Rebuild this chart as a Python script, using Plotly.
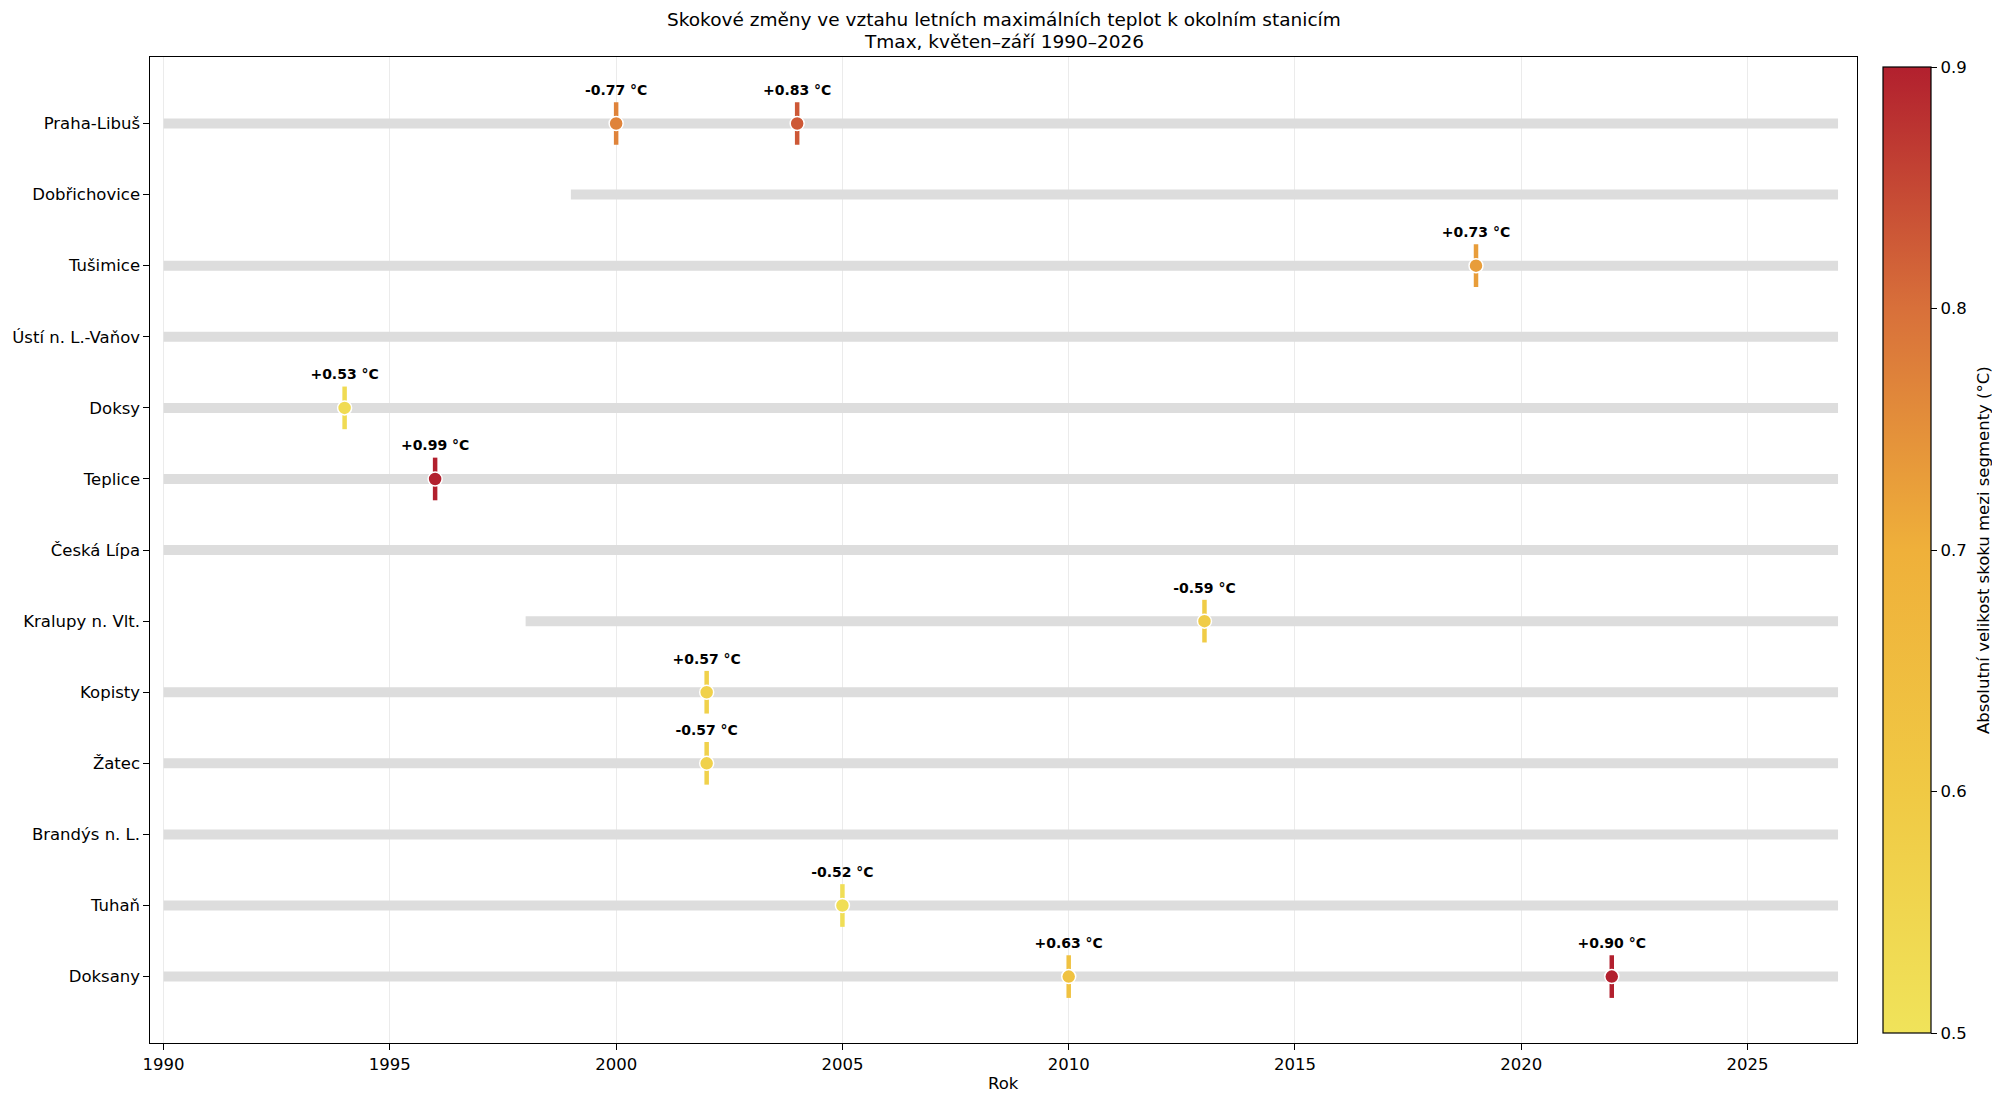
import plotly.graph_objects as go
from plotly.colors import sample_colorscale

# data
stations = ["Praha-Libuš", "Dobřichovice", "Tušimice", "Ústí n. L.-Vaňov", "Doksy",
            "Teplice", "Česká Lípa", "Kralupy n. Vlt.", "Kopisty", "Žatec",
            "Brandýs n. L.", "Tuhaň", "Doksany"]
start_years = [1990, 1999, 1990, 1990, 1990, 1990, 1990, 1998, 1990, 1990, 1990, 1990, 1990]
end_year = 2027

change_station = ["Praha-Libuš", "Praha-Libuš", "Tušimice", "Doksy", "Teplice",
                  "Kralupy n. Vlt.", "Kopisty", "Žatec", "Tuhaň", "Doksany", "Doksany"]
change_year = [2000, 2004, 2019, 1994, 1996, 2013, 2002, 2002, 2005, 2010, 2022]
change_size = [-0.77, 0.83, 0.73, 0.53, 0.99, -0.59, 0.57, -0.57, -0.52, 0.63, 0.90]

cmin, cmax = 0.5, 0.9
cscale = [[0.0, "#f0e35a"], [0.25, "#f0c944"], [0.5, "#efb03a"],
          [0.75, "#d8703a"], [1.0, "#b2202e"]]

FONT = "DejaVu Sans"
W, H = 2000, 1103
OFF = 8  # page body margin


def px_x(p):
    return (p - OFF) / W


def px_y(p):
    return 1 - (p - OFF) / H


ypos = {s: i for i, s in enumerate(stations)}
cy = [ypos[s] for s in change_station]
absval = [abs(v) for v in change_size]


def col(v):
    t = min(max((v - cmin) / (cmax - cmin), 0), 1)
    return sample_colorscale(cscale, [t])[0]


fig = go.Figure()

# gray station periods
bx, by = [], []
for s, y0 in zip(stations, start_years):
    bx += [y0, end_year, None]
    by += [ypos[s], ypos[s], None]
fig.add_trace(go.Scatter(x=bx, y=by, mode="lines", line=dict(color="#dddddd", width=10),
                         hoverinfo="skip", showlegend=False))

# vertical ticks at change points
for x, y, v in zip(change_year, cy, absval):
    fig.add_trace(go.Scatter(x=[x, x], y=[y - 0.3, y + 0.3], mode="lines",
                             line=dict(color=col(v), width=4.5),
                             hoverinfo="skip", showlegend=False))

# markers with colorbar
fig.add_trace(go.Scatter(
    x=change_year, y=cy, mode="markers", showlegend=False,
    marker=dict(size=14, color=absval, colorscale=cscale, cmin=cmin, cmax=cmax,
                line=dict(color="white", width=1.5),
                colorbar=dict(x=px_x(1882), xanchor="left", xpad=0, ypad=0,
                              thickness=48, thicknessmode="pixels",
                              len=(1033 - 67.3) / H, lenmode="fraction",
                              y=px_y(1033), yanchor="bottom",
                              outlinecolor="black", outlinewidth=1.2,
                              tickvals=[0.5, 0.6, 0.7, 0.8, 0.9], ticktext=["0.5", "0.6", "0.7", "0.8", "0.9"],
                              ticks="outside", ticklen=6, tickcolor="black",
                              tickfont=dict(family=FONT, size=16.5, color="black")))
))

# labels
labels = ["<b>%+.2f °C</b>" % v for v in change_size]
fig.add_trace(go.Scatter(x=change_year, y=[y - 0.45 for y in cy], mode="text", text=labels,
                         textposition="middle center", showlegend=False, hoverinfo="skip",
                         textfont=dict(family=FONT, size=14, color="black")))

fig.update_layout(
    width=W, height=H, margin=dict(l=0, r=0, t=0, b=0),
    plot_bgcolor="white", paper_bgcolor="white",
    font=dict(family=FONT, color="black"),
    xaxis=dict(domain=[px_x(143), px_x(1856)], range=[1989.71, 2027.41],
               tickvals=[1990, 1995, 2000, 2005, 2010, 2015, 2020, 2025],
               showgrid=True, gridcolor="#ebebeb", gridwidth=1, zeroline=False,
               showline=True, linecolor="black", linewidth=1.2, mirror=True,
               ticks="outside", ticklen=6, tickcolor="black",
               tickfont=dict(family=FONT, size=16.5, color="black")),
    yaxis=dict(domain=[px_y(1042.7), px_y(56.7)], range=[12.93, -0.94],
               tickvals=list(range(len(stations))), ticktext=stations,
               showgrid=False, zeroline=False,
               showline=True, linecolor="black", linewidth=1.2, mirror=True,
               ticks="outside", ticklen=6, tickcolor="black",
               tickfont=dict(family=FONT, size=16.5, color="black")),
    annotations=[
        dict(text="Skokové změny ve vztahu letních maximálních teplot k okolním stanicím",
             x=px_x(999.5), y=px_y(19), xref="paper", yref="paper", showarrow=False,
             xanchor="center", yanchor="middle", font=dict(family=FONT, size=18.5, color="black")),
        dict(text="Tmax, květen–září 1990–2026",
             x=px_x(999.5), y=px_y(41), xref="paper", yref="paper", showarrow=False,
             xanchor="center", yanchor="middle", font=dict(family=FONT, size=18.5, color="black")),
        dict(text="Rok", x=px_x(999.5), y=px_y(1083), xref="paper", yref="paper", showarrow=False,
             xanchor="center", yanchor="middle", font=dict(family=FONT, size=16.5, color="black")),
        dict(text="Absolutní velikost skoku mezi segmenty (°C)", textangle=-90,
             x=px_x(1983), y=px_y(550), xref="paper", yref="paper", showarrow=False,
             xanchor="center", yanchor="middle", font=dict(family=FONT, size=16.5, color="black")),
    ],
)

fig.write_html("out.html")
